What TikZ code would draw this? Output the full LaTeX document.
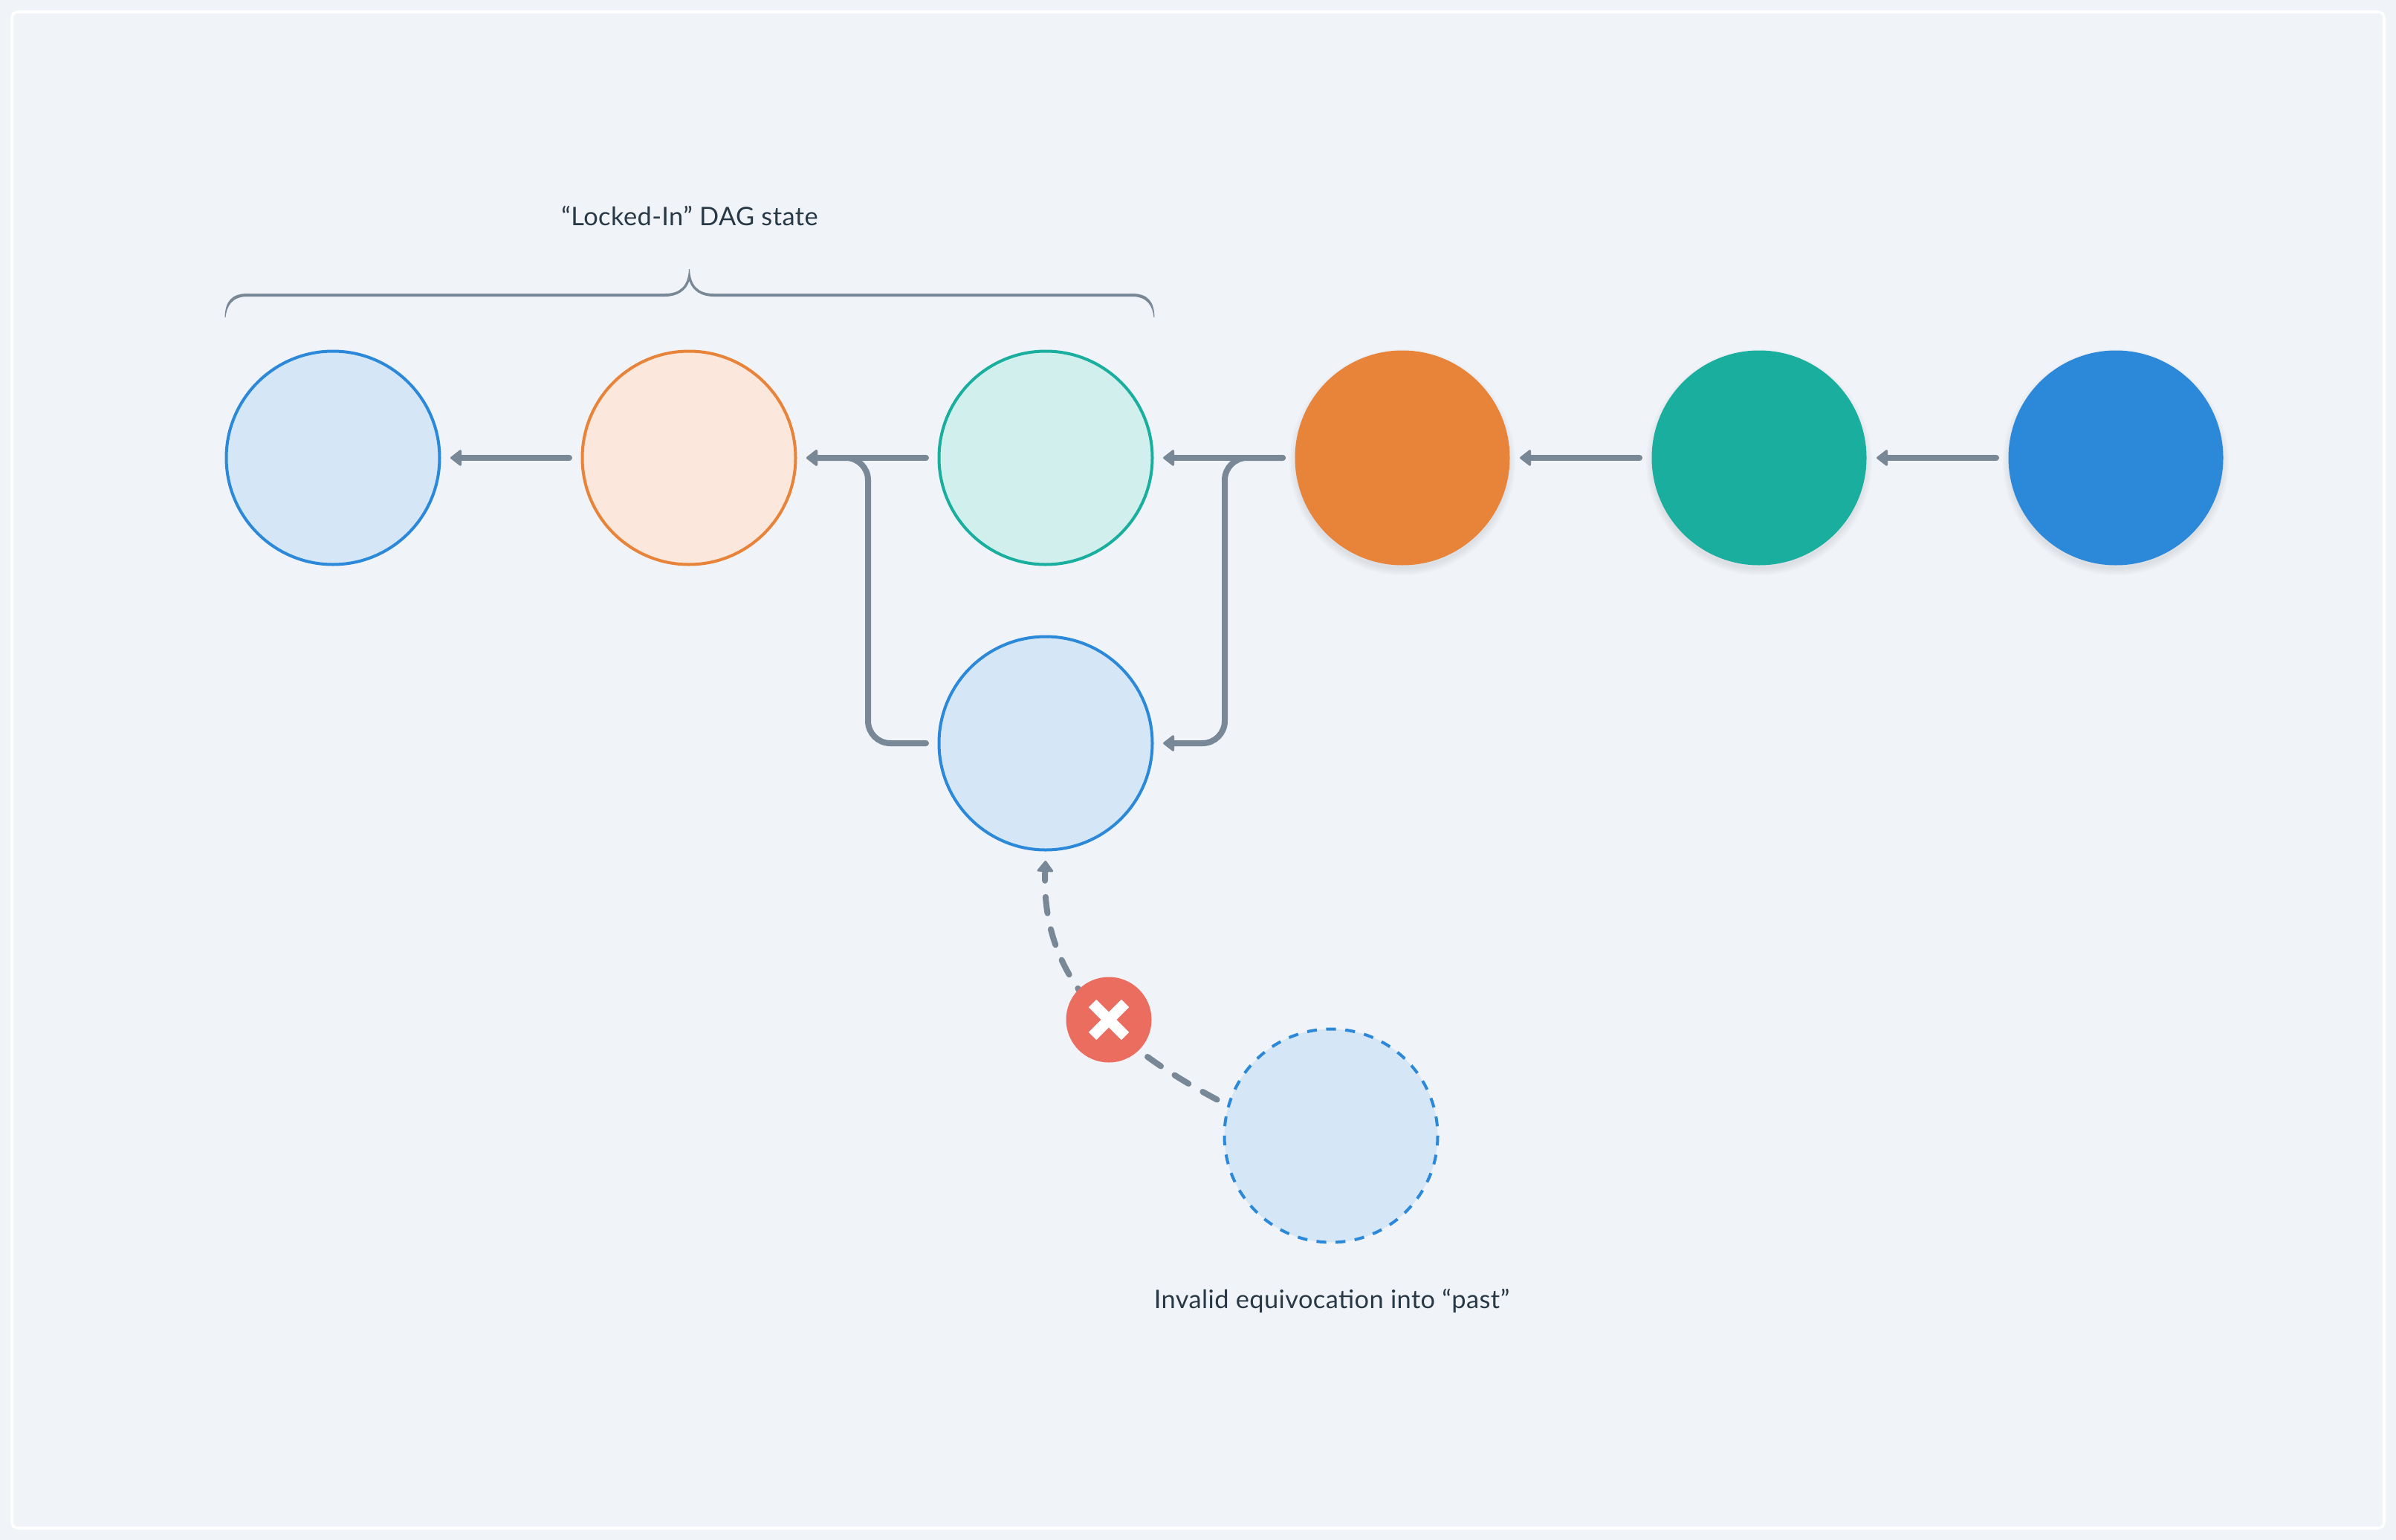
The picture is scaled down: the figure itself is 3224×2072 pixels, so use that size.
\documentclass[tikz,border=0pt]{standalone}
\usepackage{fontspec}
\setmainfont[LetterSpace=1.2]{Lato}
\usetikzlibrary{arrows.meta,shapes.misc}
\definecolor{canvas}{HTML}{F0F4F8}
\definecolor{slate}{HTML}{788896}
\definecolor{ink}{HTML}{293845}
\definecolor{blue}{HTML}{2C88D9}
\definecolor{orange}{HTML}{E8833A}
\definecolor{teal}{HTML}{1AAE9F}
\definecolor{bluetint}{HTML}{D5E7F7}
\definecolor{orangetint}{HTML}{FBE7DB}
\definecolor{tealtint}{HTML}{D1F0ED}
\definecolor{stopred}{HTML}{EB6D60}
\tikzset{
  block/.style={circle,minimum size=143.5pt,inner sep=0pt,outer sep=4.75pt,line width=2pt},
  open/.style={block,draw=#1,fill=#1tint},
  solid block/.style={block,minimum size=144.5pt,outer sep=4.25pt,fill=#1},
  flow/.style={draw=slate,line width=4pt,line cap=round,rounded corners=15pt,shorten >=2.5pt,shorten <=4pt,
    -{Triangle[round,length=8pt,width=12pt,line width=1.5pt]}},
  note/.style={text=ink,font=\fontsize{17.2}{20}\selectfont,inner sep=0pt}
}
\begin{document}
\begin{tikzpicture}[x=0.5pt,y=-0.5pt]
  % page and frame
  \fill [canvas] (0,0) rectangle (3224,2072);
  \draw [white,line width=2pt,rounded corners=4pt] (16,16) rectangle (3208,2056);
  % soft shadows under the solid blocks
  \foreach \cx in {1887,2367,2847}
    \foreach \rad in {144,146,148,150,152}
      \fill [black,opacity=0.014] (\cx,622) circle (\rad);
  % blocks
  \node [open=blue] (first) at (448,616) {};
  \node [open=orange] (second) at (927,616) {};
  \node [open=teal] (third) at (1407,616) {};
  \node [open=blue] (fork) at (1407,1000) {};
  \node [solid block=orange] (fourth) at (1887,616) {};
  \node [solid block=teal] (fifth) at (2367,616) {};
  \node [solid block=blue] (sixth) at (2847,616) {};
  \node [open=blue,draw=none] (late) at (1791,1528) {};
  \draw [blue,line width=2pt,dash pattern=on 6.6pt off 6.28pt] (late.center) circle (143.5);
  % links
  \draw [flow] (second.west) -- (first.east);
  \draw [flow] (third.west) -- (second.east);
  \draw [flow] (fourth.west) -- (third.east);
  \draw [flow] (fifth.west) -- (fourth.east);
  \draw [flow] (sixth.west) -- (fifth.east);
  \coordinate (lowleft) at (1168,616);
  \coordinate (lowright) at (1648,616);
  \draw [flow] (fork.west) -| (lowleft) -- (second.east);
  \draw [flow] (fourth.west) -- (lowright) |- (fork.east);
  \draw [flow,dash pattern=on 11pt off 11pt] (late.163) .. controls (1460,1385) and (1402,1290) .. (fork.south);
  % rejected mark
  \node [circle,fill=stopred,minimum size=57.5pt,inner sep=0pt,outer sep=0pt] (stop) at (1492,1372) {};
  \node [cross out,draw=white,line width=7.3pt,minimum size=22pt,inner sep=0pt,outer sep=0pt] (cross) at (stop) {};
  % brace
  \fill [slate] (302.5,427) .. controls (303,405) and (312,395) .. (333,395) -- (895,395)
    .. controls (915,395) and (926,385) .. (927,362) -- (928,362)
    .. controls (929,385) and (940,395) .. (960,395) -- (1523,395)
    .. controls (1544,395) and (1553,405) .. (1553.5,427) -- (1552.5,427)
    .. controls (1551,412) and (1544,399) .. (1523,399) -- (960,399)
    .. controls (945,399) and (932,392) .. (927.5,378)
    .. controls (923,392) and (910,399) .. (895,399) -- (333,399)
    .. controls (312,399) and (305,412) .. (303.5,427) -- cycle;
  % labels
  \node [note] (lockedlabel) at (928,290) {“Locked-In” DAG state};
  \node [note] (invalidlabel) at (1792,1750) {Invalid equivocation into “past”};
\end{tikzpicture}
\end{document}
